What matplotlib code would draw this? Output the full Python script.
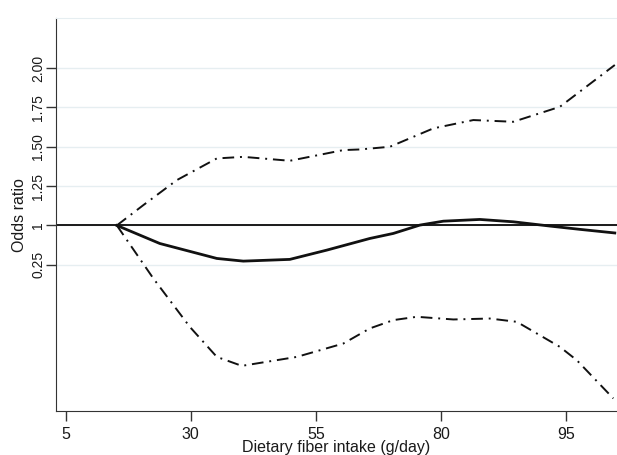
import matplotlib
matplotlib.use("Agg")
import matplotlib.pyplot as plt

plt.rcParams['font.family'] = ['Liberation Sans', 'DejaVu Sans']

# tick positions on the drawn axis and the labels printed at them
x_tick_pos = [5, 30, 55, 80, 105]
x_tick_labels = ['5', '30', '55', '80', '95']
y_tick_pos = [0.75, 1.0, 1.25, 1.5, 1.75, 2.0]
y_tick_labels = ['0.25', '1', '1.25', '1.50', '1.75', '2.00']

# odds ratio curve (axis position units)
or_x = [15.2, 23.8, 35.2, 40.5, 49.8, 57.2, 65.8, 70.5, 75.8, 80.5, 87.8, 94.5, 101.8, 107.8, 114.8]
or_y = [1.0, 0.885, 0.79, 0.773, 0.784, 0.843, 0.917, 0.949, 1.002, 1.027, 1.038, 1.023, 0.996, 0.975, 0.952]

# upper 95% CI
up_x = [15.2, 20.5, 27.2, 35.2, 40.5, 49.8, 60.5, 63.8, 69.8, 78.5, 86.5, 94.5, 103.8, 114.8]
up_y = [1.0, 1.129, 1.288, 1.426, 1.436, 1.411, 1.479, 1.483, 1.5, 1.617, 1.67, 1.659, 1.754, 2.02]

# lower 95% CI
lo_x = [15.2, 22.5, 29.8, 35.2, 40.2, 51.2, 60.5, 65.8, 70.5, 75.2, 82.5, 89.8, 95.2, 103.8, 107.2, 114.5]
lo_y = [1.0, 0.663, 0.355, 0.164, 0.107, 0.164, 0.249, 0.345, 0.398, 0.419, 0.402, 0.408, 0.387, 0.228, 0.143, -0.1]

fig = plt.figure(figsize=(6.17, 4.55), dpi=100)
ax = fig.add_axes([0.09, 0.0967, 0.91, 0.8631])

grid_col = '#e6eef1'
for yv in y_tick_pos:
    ax.axhline(yv, color=grid_col, lw=1.0, zorder=0)

ax.axhline(1.0, color='#1a1a1a', lw=1.4, zorder=2)
ax.plot(or_x, or_y, color='#111111', lw=2.0, zorder=3)
ax.plot(up_x, up_y, color='#111111', lw=1.4, ls=(0, (6, 3, 1, 3)), zorder=3)
ax.plot(lo_x, lo_y, color='#111111', lw=1.4, ls=(0, (6, 3, 1, 3)), zorder=3)

ax.set_xlim(2.94, 115.24)
ax.set_ylim(-0.18, 2.317)

ax.set_xticks(x_tick_pos)
ax.set_xticklabels(x_tick_labels)
ax.set_yticks(y_tick_pos)
ax.set_yticklabels(y_tick_labels, rotation=90, va='center')

ax.tick_params(axis='both', colors='#333333', labelcolor='#1a1a1a', length=7, width=1.0)
ax.tick_params(axis='x', pad=4.5, labelsize=11.5)
ax.tick_params(axis='y', pad=0.5, labelsize=10)

ax.spines['right'].set_visible(False)
ax.spines['top'].set_color(grid_col)
ax.spines['left'].set_color('#333333')
ax.spines['bottom'].set_color('#333333')

ax.set_xlabel('Dietary fiber intake (g/day)', fontsize=11.5, color='#1a1a1a', va='baseline')
ax.xaxis.set_label_coords(0.5, -0.1036)
ax.set_ylabel('Odds ratio', fontsize=11.5, color='#1a1a1a')
ax.yaxis.set_label_coords(-0.0508, 0.5)

fig.savefig('out.png', dpi=100)
